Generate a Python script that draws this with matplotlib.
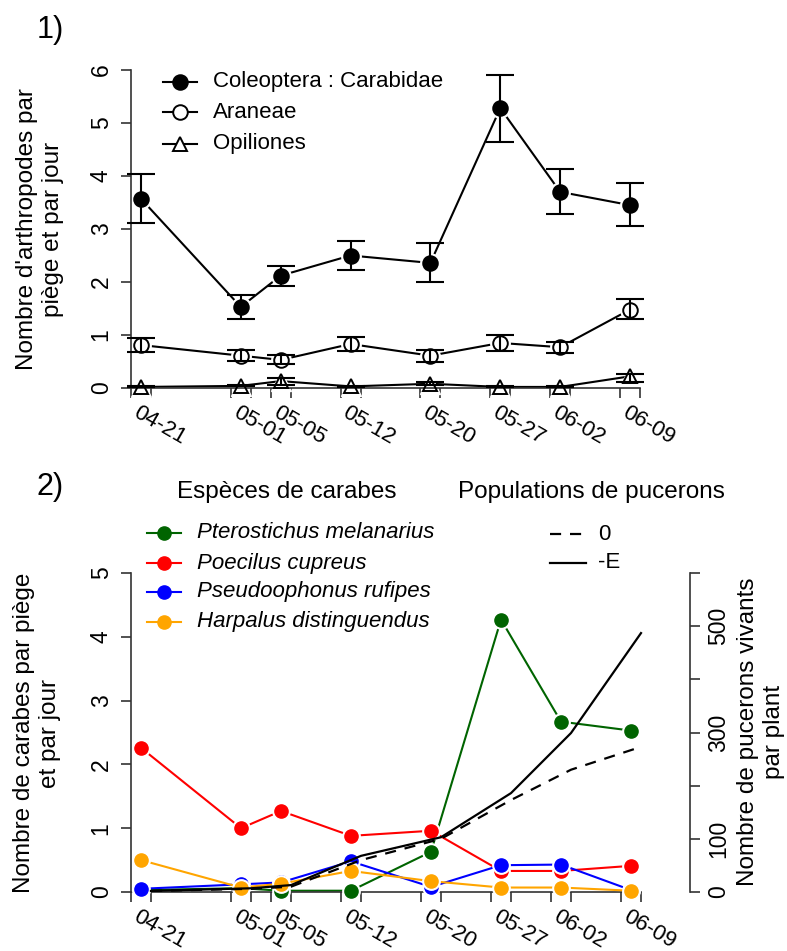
import pandas as pd
import matplotlib
matplotlib.use("Agg")
import matplotlib.pyplot as plt
import matplotlib.transforms as mtransforms
from matplotlib.lines import Line2D

plt.rcParams['font.family'] = ['Liberation Sans', 'DejaVu Sans']

# dates d'echantillonnage (mois-jour)
dates = ['04-21', '05-01', '05-05', '05-12', '05-20', '05-27', '06-02', '06-09']

# 1) arthropodes par piege et par jour (moyenne, bas et haut de la barre d'erreur)
carabidae = [3.57, 1.53, 2.12, 2.50, 2.36, 5.28, 3.70, 3.45]
carabidae_bas = [3.11, 1.30, 1.93, 2.23, 2.00, 4.64, 3.28, 3.05]
carabidae_haut = [4.04, 1.76, 2.31, 2.78, 2.73, 5.90, 4.13, 3.86]
araneae = [0.81, 0.61, 0.53, 0.83, 0.61, 0.85, 0.77, 1.48]
araneae_bas = [0.68, 0.51, 0.45, 0.69, 0.49, 0.70, 0.66, 1.30]
araneae_haut = [0.95, 0.72, 0.62, 0.97, 0.71, 1.00, 0.87, 1.68]
opiliones = [0.02, 0.04, 0.13, 0.03, 0.08, 0.02, 0.02, 0.22]
opiliones_bas = [0.01, 0.03, 0.06, 0.02, 0.05, 0.01, 0.01, 0.11]
opiliones_haut = [0.03, 0.05, 0.19, 0.04, 0.11, 0.03, 0.03, 0.26]

# 2) especes de carabes
pterostichus = [0.03, 0.06, 0.02, 0.02, 0.63, 4.27, 2.67, 2.53]
poecilus = [2.26, 1.00, 1.27, 0.88, 0.96, 0.33, 0.33, 0.41]
pseudoophonus = [0.05, 0.12, 0.15, 0.48, 0.08, 0.42, 0.43, 0.03]
harpalus = [0.50, 0.07, 0.13, 0.33, 0.17, 0.07, 0.07, 0.02]

# pucerons vivants par plant
pucerons_0 = [2, 6, 10, 60, 100, 173, 230, 273]
pucerons_E = [2, 7, 13, 68, 103, 186, 299, 487]

jours = (pd.to_datetime(['2013-' + d for d in dates]) - pd.Timestamp('2013-04-21')).days.values
x_carabes = jours + 1
x_pucerons = jours + 2

W, H = 787, 951
fig = plt.figure(figsize=(W / 100, H / 100), dpi=100)


def fx(px):
    return px / W


def fy(py):
    return 1 - py / H


axe_col = '#333333'
fs_tick = 16.5
fs_lab = 17.5
fs_leg = 16


def style_axes(ax, ymax, yticks):
    for s in ['top', 'right']:
        ax.spines[s].set_visible(False)
    ax.spines['left'].set_bounds(0, ymax)
    ax.spines['bottom'].set_bounds(0, jours[-1] + 2)
    for s in ['left', 'bottom']:
        ax.spines[s].set_color(axe_col)
        ax.spines[s].set_linewidth(1.2)
    ax.set_xticks(list(jours) + list(jours + 2))
    ax.set_xticklabels([])
    ax.set_yticks(yticks)
    ax.set_yticklabels([str(v) for v in yticks], rotation=90, va='center', fontsize=fs_tick)
    ax.tick_params(length=7.2, width=1.2, color=axe_col, pad=6)
    off = mtransforms.offset_copy(ax.get_xaxis_transform(), fig=fig, x=9, y=-14, units='dots')
    for j, d in zip(jours, dates):
        ax.text(j, 0, d, transform=off, rotation=-30, rotation_mode='anchor',
                ha='left', va='top', fontsize=16)


# ---------- panneau 1 ----------
ax1 = fig.add_axes([fx(131), fy(388), (640 - 131) / W, (388 - 70) / H])
ax1.set_xlim(0, jours[-1] + 2)
ax1.set_ylim(0, 6)
style_axes(ax1, 6, range(0, 7))

series1 = [
    (carabidae, carabidae_bas, carabidae_haut, 'o', 'black'),
    (araneae, araneae_bas, araneae_haut, 'o', 'none'),
    (opiliones, opiliones_bas, opiliones_haut, '^', 'none'),
]
for y, lo, hi, m, fc in series1:
    ax1.plot(x_carabes, y, color='black', lw=1.5, zorder=1, clip_on=False)
    ax1.plot(x_carabes, y, ls='none', marker=m, ms=14, mfc='white', mec='white', zorder=2, clip_on=False)
    ax1.errorbar(x_carabes, y, yerr=[[a - b for a, b in zip(y, lo)], [b - a for a, b in zip(y, hi)]],
                 fmt='none', ecolor='black', elinewidth=1.5, capsize=10, capthick=1.5, zorder=3, clip_on=False)
    ax1.plot(x_carabes, y, ls='none', marker=m, ms=10.5, mfc=fc, mec='black', mew=1.4, zorder=4, clip_on=False)

# legende panneau 1
leg1 = [('Coleoptera : Carabidae', 'o', 'black', 82),
        ('Araneae', 'o', 'none', 112),
        ('Opiliones', '^', 'none', 144)]
for lab, m, fc, yy in leg1:
    fig.add_artist(Line2D([fx(163), fx(197)], [fy(yy), fy(yy)], color='black', lw=1.5,
                          transform=fig.transFigure))
    fig.add_artist(Line2D([fx(180)], [fy(yy)], marker=m, ms=10.5, mfc=fc if fc != 'none' else 'white',
                          mec='black', mew=1.4, transform=fig.transFigure))
    fig.text(fx(213), fy(yy), lab, fontsize=fs_leg, va='center', ha='left')

fig.text(fx(37), fy(30), '1)', fontsize=22, va='center', ha='left')
fig.text(fx(40), fy(229), "Nombre d'arthropodes par\npiège et par jour", rotation=90,
         fontsize=fs_lab, ha='center', va='center', multialignment='center', linespacing=1.25)

# ---------- panneau 2 ----------
ax2 = fig.add_axes([fx(131), fy(892), (690 - 131) / W, (892 - 573) / H])
ax2.set_xlim(0, (690 - 131) / 10)
ax2.set_ylim(0, 5)
style_axes(ax2, 5, range(0, 6))

axr = ax2.twinx()
axr.set_ylim(0, 600)
for s in ['top', 'left', 'bottom']:
    axr.spines[s].set_visible(False)
axr.spines['right'].set_bounds(0, 600)
axr.spines['right'].set_color(axe_col)
axr.spines['right'].set_linewidth(1.2)
axr.set_yticks(range(0, 700, 100))
axr.set_yticklabels(['0', '100', '', '300', '', '500', ''], rotation=90, va='center', fontsize=fs_tick)
axr.tick_params(length=7.2, width=1.2, color=axe_col, pad=5)

especes = [
    ('Pterostichus melanarius', pterostichus, '#006400', 533),
    ('Poecilus cupreus', poecilus, '#ff0000', 563),
    ('Pseudoophonus rufipes', pseudoophonus, '#0000ff', 592),
    ('Harpalus distinguendus', harpalus, '#ffa500', 622),
]
for i, (nom, y, c, yy) in enumerate(especes):
    z = 2 + i * 3
    ax2.plot(x_carabes, y, color=c, lw=1.5, zorder=z, clip_on=False)
    ax2.plot(x_carabes, y, ls='none', marker='o', ms=12.5, mfc='white', mec='white', zorder=z + 1, clip_on=False)
    ax2.plot(x_carabes, y, ls='none', marker='o', ms=9.5, mfc=c, mec=c, zorder=z + 2, clip_on=False)
    fig.add_artist(Line2D([fx(147), fx(181)], [fy(yy), fy(yy)], color=c, lw=1.5, transform=fig.transFigure))
    fig.add_artist(Line2D([fx(164)], [fy(yy)], marker='o', ms=9.5, mfc=c, mec=c, transform=fig.transFigure))
    fig.text(fx(197), fy(yy), nom, fontsize=fs_leg, style='italic', va='center', ha='left')

ax2.set_zorder(axr.get_zorder() + 1)
ax2.patch.set_visible(False)
tr = axr.transData
ax2.plot(x_pucerons, pucerons_0, color='black', lw=1.6, ls=(0, (5, 4)), transform=tr, zorder=20, clip_on=False)
ax2.plot(x_pucerons, pucerons_E, color='black', lw=1.6, transform=tr, zorder=20, clip_on=False)

fig.add_artist(Line2D([fx(550), fx(586)], [fy(534), fy(534)], color='black', lw=1.6, ls=(0, (5, 4)),
                      transform=fig.transFigure))
fig.text(fx(598), fy(534), '0', fontsize=fs_leg, va='center', ha='left')
fig.add_artist(Line2D([fx(550), fx(586)], [fy(563), fy(563)], color='black', lw=1.6, transform=fig.transFigure))
fig.text(fx(598), fy(563), '-E', fontsize=fs_leg, va='center', ha='left')

fig.text(fx(177), fy(492), 'Espèces de carabes', fontsize=fs_lab, va='center', ha='left')
fig.text(fx(458), fy(492), 'Populations de pucerons', fontsize=fs_lab, va='center', ha='left')

fig.text(fx(37), fy(487), '2)', fontsize=22, va='center', ha='left')
fig.text(fx(37), fy(733), "Nombre de carabes par piège\net par jour", rotation=90,
         fontsize=fs_lab, ha='center', va='center', multialignment='center', linespacing=1.25)
fig.text(fx(761), fy(732), "Nombre de pucerons vivants\npar plant", rotation=90,
         fontsize=fs_lab, ha='center', va='center', multialignment='center', linespacing=1.25)

fig.savefig('out.png', dpi=100)
